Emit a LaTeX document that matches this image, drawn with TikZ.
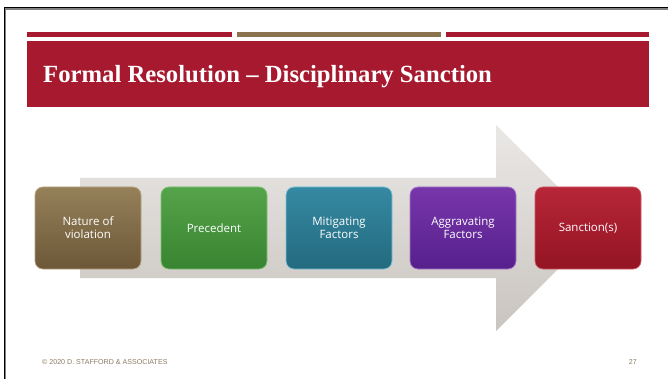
\documentclass[tikz,border=0pt]{standalone}
\usepackage{fontspec}
\setmainfont{Liberation Serif}
\newfontfamily\boxfont{Open Sans}
\newfontfamily\footfont{Liberation Sans}
\definecolor{bandred}{HTML}{A6192E}
\definecolor{barbrown}{HTML}{8B7350}
\definecolor{footcol}{HTML}{8C7B62}
\definecolor{arrtop}{HTML}{EAE8E6}
\definecolor{arrbot}{HTML}{C9C4BF}
\definecolor{aT}{HTML}{958059}\definecolor{aB}{HTML}{6C5838}\definecolor{aD}{HTML}{B8A582}
\definecolor{bT}{HTML}{55A34A}\definecolor{bB}{HTML}{388431}\definecolor{bD}{HTML}{7FC274}
\definecolor{cT}{HTML}{3589A2}\definecolor{cB}{HTML}{236A7E}\definecolor{cD}{HTML}{7CC4D8}
\definecolor{dT}{HTML}{7836AB}\definecolor{dB}{HTML}{56208C}\definecolor{dD}{HTML}{A57ACB}
\definecolor{eT}{HTML}{B72638}\definecolor{eB}{HTML}{931423}\definecolor{eD}{HTML}{D15A66}
\tikzset{
  stepbox/.style={draw, line width=0.7pt, rounded corners=8pt, minimum width=106pt, minimum height=82pt,
    text=white, align=center, font=\boxfont\fontsize{11.5}{13}\selectfont, inner sep=0pt},
  foot/.style={text=footcol, font=\footfont\fontsize{7.1}{8}\selectfont, inner sep=0pt}
}
\begin{document}
\begin{tikzpicture}[x=1pt,y=-1pt]
\useasboundingbox (0,0) rectangle (668,379);
\fill[white] (0,0) rectangle (668,379);
% frame
\draw[line width=1.2pt, black!50] (5.5,379) -- (5.5,9) -- (668,9);
\draw[line width=1.6pt, black] (4.5,379) -- (4.5,7.5) -- (668,7.5);
% top bars
\fill[bandred] (27,32) rectangle (232,37);
\fill[barbrown] (237,32) rectangle (441,37);
\fill[bandred] (446,32) rectangle (649,37);
% title band
\fill[bandred] (27,41) rectangle (649,107);
\node[anchor=base west, text=white, font=\bfseries\fontsize{24.7}{28}\selectfont, inner sep=0pt] (title) at (43,83) {Formal Resolution – Disciplinary Sanction};
% arrow
\shade[top color=arrtop, bottom color=arrbot]
  (80,178) -- (496,178) -- (496,125) -- (599,228) -- (496,331) -- (496,278) -- (80,278) -- cycle;
% boxes
\node[stepbox, top color=aT, bottom color=aB, draw=aD] (n1) at (88,228) {Nature of\\violation};
\node[stepbox, top color=bT, bottom color=bB, draw=bD] (n2) at (214,228) {Precedent};
\node[stepbox, top color=cT, bottom color=cB, draw=cD] (n3) at (339,228) {Mitigating\\Factors};
\node[stepbox, top color=dT, bottom color=dB, draw=dD] (n4) at (463,228) {Aggravating\\Factors};
\node[stepbox, top color=eT, bottom color=eB, draw=eD] (n5) at (588,228) {Sanction(s)};
% footer
\node[foot, anchor=west] (copy) at (42,362) {© 2020 D. STAFFORD \& ASSOCIATES};
\node[foot, anchor=east] (page) at (637,362) {27};
\end{tikzpicture}
\end{document}
